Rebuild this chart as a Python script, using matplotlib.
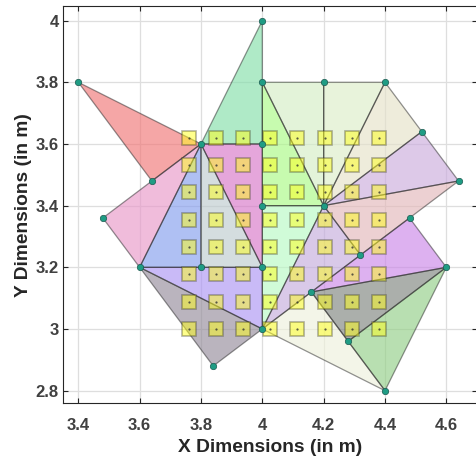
import numpy as np
import matplotlib
matplotlib.use("Agg")
import matplotlib.pyplot as plt
from matplotlib.patches import Polygon

# node coordinates (m)
node_x = [3.40, 3.80, 4.00, 4.00, 4.00, 4.20, 4.40, 4.52, 4.64, 3.64, 3.48, 3.60,
          3.80, 4.00, 4.00, 4.20, 4.00, 3.84, 4.40, 4.28, 4.16, 4.60, 4.48, 4.32]
node_y = [3.80, 3.60, 4.00, 3.80, 3.60, 3.80, 3.80, 3.64, 3.48, 3.48, 3.36, 3.20,
          3.20, 3.20, 3.40, 3.40, 3.00, 2.88, 2.80, 2.96, 3.12, 3.20, 3.36, 3.24]

# triangles as node indices
triangles = [(0, 1, 9), (1, 2, 4), (1, 10, 11), (1, 11, 12), (1, 12, 13), (1, 4, 13),
             (3, 14, 15), (14, 15, 16), (3, 5, 15), (5, 6, 15), (6, 7, 15), (7, 8, 15),
             (15, 8, 23), (15, 23, 16), (22, 21, 20), (20, 21, 19), (19, 21, 18),
             (16, 20, 18), (11, 13, 16), (11, 16, 17)]

tri_colors = ['#f6a6a6', '#afeac8', '#f0bcdc', '#b0c0f4', '#d4dddf', '#e5a6db',
              '#c8fbb0', '#d1fbd8', '#e3f4da', '#e8f3db', '#eeecdc', '#ddc9e9',
              '#edd1d2', '#d9c9e9', '#ddb1f0', '#acafab', '#b9e0b1', '#f4f6e8',
              '#c9baf8', '#bab5be']

# sensor grid
grid_x = [3.76, 3.849, 3.937, 4.026, 4.114, 4.203, 4.291, 4.38]
grid_y = [3.00, 3.089, 3.177, 3.266, 3.354, 3.443, 3.531, 3.62]


def lighten_to_base(hex_col, alpha):
    # colour that gives hex_col when laid over white with the given alpha
    rgb = np.array(matplotlib.colors.to_rgb(hex_col))
    base = 1 - (1 - rgb) / alpha
    return tuple(np.clip(base, 0, 1))


plt.rcParams['font.family'] = ['Liberation Sans', 'DejaVu Sans']

fig = plt.figure(figsize=(4.77, 4.59), dpi=100)
ax = fig.add_axes([0.132, 0.122, 0.868, 0.864])

a = 0.65
for tri, col in zip(triangles, tri_colors):
    pts = [(node_x[i], node_y[i]) for i in tri]
    ax.add_patch(Polygon(pts, closed=True, facecolor=lighten_to_base(col, a), alpha=a,
                         edgecolor='none', zorder=2))
    ax.add_patch(Polygon(pts, closed=True, facecolor='none', edgecolor=(0.15, 0.15, 0.15, 0.5),
                         linewidth=0.9, zorder=3))

gx, gy = np.meshgrid(grid_x, grid_y)
ax.plot(gx.ravel(), gy.ravel(), linestyle='none', marker='s', markersize=10,
        markerfacecolor=(1.0, 1.0, 0.1, 0.5), markeredgecolor=(0.25, 0.25, 0.15, 0.4),
        markeredgewidth=1.2, zorder=4)
ax.plot(gx.ravel(), gy.ravel(), linestyle='none', marker='o', markersize=1.6,
        color=(0.2, 0.2, 0.2, 0.8), markeredgewidth=0, zorder=5)

ax.plot(node_x, node_y, linestyle='none', marker='o', markersize=4.6,
        markerfacecolor='#1f9c84', markeredgecolor='#1c5a50', markeredgewidth=0.5, zorder=6)

ax.set_xlim(3.35, 4.7)
ax.set_ylim(2.76, 4.046)
ax.set_xticks([3.4, 3.6, 3.8, 4.0, 4.2, 4.4, 4.6])
ax.set_xticklabels(['3.4', '3.6', '3.8', '4', '4.2', '4.4', '4.6'])
ax.set_yticks([2.8, 3.0, 3.2, 3.4, 3.6, 3.8, 4.0])
ax.set_yticklabels(['2.8', '3', '3.2', '3.4', '3.6', '3.8', '4'])

ax.grid(True, color='#dedede', linewidth=0.9, zorder=0)
ax.set_axisbelow(True)
ax.tick_params(direction='in', length=3.5, width=0.8, top=True, right=True,
               labelsize=12, colors='#262626', labelcolor='#404040')
ax.tick_params(axis='x', pad=11)
ax.tick_params(axis='y', pad=3)
for lab in ax.get_xticklabels() + ax.get_yticklabels():
    lab.set_fontweight('bold')
for sp in ax.spines.values():
    sp.set_color('#262626')
    sp.set_linewidth(0.8)

ax.set_xlabel('X Dimensions (in m)', fontsize=13.8, fontweight='bold', color='#262626', labelpad=4)
ax.set_ylabel('Y Dimensions (in m)', fontsize=13.8, fontweight='bold', color='#262626', labelpad=3)

fig.savefig('out.png', dpi=100)
